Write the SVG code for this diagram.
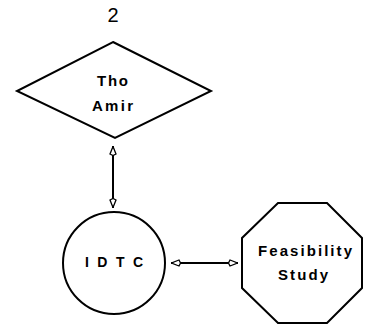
<svg xmlns="http://www.w3.org/2000/svg" width="370" height="325" viewBox="0 0 370 325">
<style>
.shape{fill:none;stroke:#000;stroke-width:2}
.lbl{font-family:"Liberation Sans",Arial,sans-serif;font-weight:bold;fill:#000}
.conn{stroke:#000;stroke-width:2;fill:none}
</style>
<defs>
<marker id="ah" viewBox="0 0 10 8" refX="10" refY="4" markerWidth="10" markerHeight="8" markerUnits="userSpaceOnUse" orient="auto-start-reverse">
<path d="M0.5,4 L2,1 L9.5,4 L2,7 Z" fill="#fff" stroke="#000" stroke-width="1.3"/>
</marker>
</defs>
<rect width="370" height="325" fill="#fff"/>
<g id="title">
<text x="113" y="22" style="font-family:'Liberation Sans',Arial,sans-serif;font-size:20px;text-anchor:middle">2</text>
</g>
<g id="amir">
<polygon class="shape" points="113,42 211,91 115,138 17,91"/>
<text class="lbl" x="97" y="85.5" font-size="15" textLength="31" lengthAdjust="spacing">Tho</text>
<text class="lbl" x="92" y="110.5" font-size="15" textLength="41" lengthAdjust="spacing">Amir</text>
</g>
<g id="idtc">
<circle class="shape" cx="114" cy="263" r="51"/>
<text class="lbl" x="85" y="267" font-size="14" textLength="58" lengthAdjust="spacing">IDTC</text>
</g>
<g id="feasibility">
<polygon class="shape" points="278,203 327,203 362,238 362,288 327,323 278,323 242,288 242,238"/>
<text class="lbl" x="258" y="256" font-size="15" textLength="94" lengthAdjust="spacing">Feasibility</text>
<text class="lbl" x="278" y="280" font-size="15" textLength="50" lengthAdjust="spacing">Study</text>
</g>
<g id="connectors">
<line class="conn" x1="113" y1="146" x2="113" y2="208" marker-start="url(#ah)" marker-end="url(#ah)"/>
<line class="conn" x1="171" y1="263" x2="238" y2="263" marker-start="url(#ah)" marker-end="url(#ah)"/>
</g>
</svg>
